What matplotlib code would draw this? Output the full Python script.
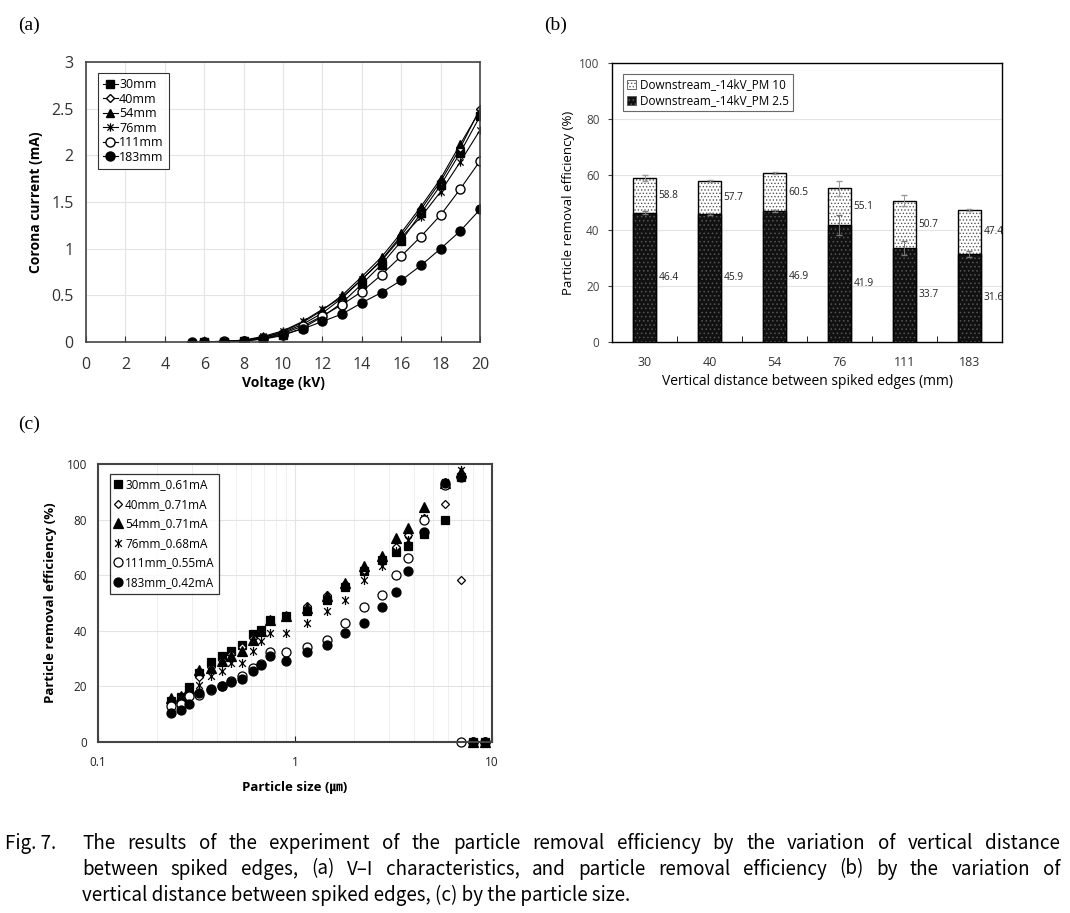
import matplotlib
matplotlib.use('Agg')
import matplotlib.pyplot as plt
import numpy as np
from matplotlib.path import Path
from matplotlib.patches import Patch

# ---------------- (a) V-I characteristics ----------------
volt = [6, 7, 8, 9, 10, 11, 12, 13, 14, 15, 16, 17, 18, 19, 20]
volt_183 = [5.4, 6, 7, 8, 9, 10, 11, 12, 13, 14, 15, 16, 17, 18, 19, 20]
cur_30 = [0.003, 0.005, 0.012, 0.03, 0.07, 0.15, 0.27, 0.42, 0.62, 0.83, 1.08, 1.38, 1.68, 2.03, 2.42]
cur_40 = [0.003, 0.006, 0.015, 0.05, 0.10, 0.19, 0.31, 0.47, 0.67, 0.88, 1.14, 1.42, 1.72, 2.08, 2.50]
cur_54 = [0.003, 0.006, 0.016, 0.05, 0.11, 0.21, 0.34, 0.50, 0.70, 0.91, 1.17, 1.45, 1.75, 2.12, 2.48]
cur_76 = [0.003, 0.007, 0.02, 0.06, 0.12, 0.22, 0.35, 0.48, 0.67, 0.87, 1.12, 1.34, 1.61, 1.93, 2.27]
cur_111 = [0.003, 0.006, 0.015, 0.04, 0.09, 0.17, 0.28, 0.40, 0.54, 0.72, 0.92, 1.13, 1.36, 1.64, 1.94]
cur_183 = [0.002, 0.003, 0.005, 0.012, 0.035, 0.08, 0.14, 0.22, 0.30, 0.42, 0.53, 0.66, 0.82, 1.00, 1.19, 1.42]

# ---------------- (b) removal efficiency by distance ----------------
dist = ['30', '40', '54', '76', '111', '183']
pm10 = [58.8, 57.7, 60.5, 55.1, 50.7, 47.4]
pm25 = [46.4, 45.9, 46.9, 41.9, 33.7, 31.6]
pm10_err = [1.0, 0.5, 0.3, 2.7, 2.0, 0.3]
pm25_err = [0.5, 0.3, 0.3, 3.5, 2.5, 1.0]

# ---------------- (c) removal efficiency by particle size ----------------
sizes = [0.235, 0.265, 0.29, 0.325, 0.375, 0.425, 0.475, 0.54, 0.615, 0.675, 0.75, 0.9,
         1.15, 1.45, 1.8, 2.25, 2.75, 3.25, 3.75, 4.5, 5.75, 7.0, 8.0, 9.25]
eff_30 = [14.6, 16.2, 19.8, 24.8, 28.6, 31.0, 32.6, 35.0, 39.0, 40.4, 44.0, 45.2,
          47.2, 51.2, 55.8, 61.4, 65.5, 68.5, 70.4, 75.0, 80.0, 95.5, 0, 0]
eff_40 = [14.0, 16.5, 18.5, 23.5, 27.0, 29.5, 31.5, 34.0, 37.5, 40.0, 43.5, 45.0,
          49.0, 53.0, 57.0, 62.0, 66.0, 70.0, 74.5, 80.5, 85.6, 58.2, 0, 0]
eff_54 = [15.8, 16.6, 19.4, 26.0, 26.6, 29.0, 31.0, 32.8, 36.8, 39.8, 44.0, 45.2,
          48.2, 52.4, 57.2, 63.2, 66.8, 73.4, 77.0, 84.4, 93.2, 97.3, 0, 0]
eff_76 = [14.0, 14.6, 17.0, 20.6, 23.6, 25.4, 28.4, 28.4, 32.6, 36.2, 39.2, 39.2,
          42.8, 47.0, 51.2, 58.4, 63.2, 68.6, 72.8, 80.6, 93.7, 97.9, 0, 0]
eff_111 = [12.8, 13.8, 16.6, 17.0, 18.8, 20.3, 21.8, 23.6, 26.6, 28.0, 32.2, 32.4,
           34.2, 36.8, 42.8, 48.4, 52.8, 60.2, 66.2, 79.8, 92.6, 0, 0, 0]
eff_183 = [10.6, 11.6, 13.8, 17.6, 19.2, 20.0, 21.5, 22.8, 25.4, 27.6, 31.0, 29.2,
           32.4, 35.0, 39.2, 42.8, 48.6, 54.0, 61.4, 75.6, 93.0, 95.2, 0, 0]

caption = [
    "The results of the experiment of the particle removal efficiency by the variation of vertical distance",
    "between spiked edges, (a) V\u2013I characteristics, and particle removal efficiency (b) by the variation of",
    "vertical distance between spiked edges, (c) by the particle size.",
]

# ---------------- fonts ----------------
SANS = ['Open Sans', 'Noto Sans', 'DejaVu Sans']
plt.rcParams['font.family'] = SANS
CAP_FONT = ['Noto Sans CJK KR', 'DejaVu Sans']

# 星号标记：竖线 + 叉
star = Path([(0, -1), (0, 1), (-0.75, -0.75), (0.75, 0.75), (-0.75, 0.75), (0.75, -0.75)],
            [Path.MOVETO, Path.LINETO, Path.MOVETO, Path.LINETO, Path.MOVETO, Path.LINETO])

W, H = 1070, 913
fig = plt.figure(figsize=(W / 100, H / 100), dpi=100)


def box(l, t, r, b):
    return [l / W, 1 - b / H, (r - l) / W, (b - t) / H]


# ======== (a) ========
ax = fig.add_axes(box(86, 62, 480, 342))
ka = dict(color='black', lw=0.8)
ax.plot(volt, cur_30, marker='s', ms=5.5, mfc='black', mec='black', label='30mm', **ka)
ax.plot(volt, cur_40, marker='D', ms=4.2, mfc='white', mec='black', label='40mm', **ka)
ax.plot(volt, cur_54, marker='^', ms=6, mfc='black', mec='black', label='54mm', **ka)
ax.plot(volt, cur_76, marker=star, ms=6, mfc='none', mec='black', mew=0.9, label='76mm', **ka)
ax.plot(volt, cur_111, marker='o', ms=6.5, mfc='white', mec='black', label='111mm', **ka)
ax.plot(volt_183, cur_183, marker='o', ms=6.5, mfc='black', mec='black', label='183mm', **ka)
ax.set_xlim(0, 20)
ax.set_ylim(0, 3)
ax.set_xticks(range(0, 21, 2))
ax.set_yticks([0, 0.5, 1, 1.5, 2, 2.5, 3])
ax.set_yticklabels(['0', '0.5', '1', '1.5', '2', '2.5', '3'])
ax.grid(True, color='#e4e4e4', lw=0.8)
ax.set_axisbelow(True)
ax.tick_params(axis='x', direction='in', length=4, labelsize=11.5, colors='#333', pad=11)
ax.tick_params(axis='y', length=0, labelsize=11.5, colors='#333', pad=9)
for s in ax.spines.values():
    s.set_color('#444')
    s.set_linewidth(1.2)
ax.set_xlabel('Voltage (kV)', fontsize=10, fontweight='bold', labelpad=2)
ax.set_ylabel('Corona current (mA)', fontsize=10, fontweight='bold', labelpad=6)
leg = ax.legend(loc='upper left', bbox_to_anchor=(0.03, 0.96), fontsize=9, frameon=True,
                fancybox=False, edgecolor='black', handlelength=1.2, handletextpad=0.1,
                labelspacing=0.12, borderpad=0.4, borderaxespad=0)
leg.get_frame().set_linewidth(0.8)

# ======== (b) ========
bx = fig.add_axes(box(612, 63, 1002, 342))
xpos = np.arange(len(dist))
bw = 0.34
plt.rcParams['hatch.linewidth'] = 0.6
bx.bar(xpos, pm10, bw, color='white', edgecolor='#555', hatch='.....', lw=0, zorder=2)
bx.bar(xpos, pm10, bw, fill=False, edgecolor='black', lw=1.0, zorder=3)
bx.errorbar(xpos, pm10, yerr=pm10_err, fmt='none', ecolor='#999', elinewidth=0.7, capsize=2, zorder=4)
bx.bar(xpos, pm25, bw, color='#111', edgecolor='#555', hatch='....', lw=0, zorder=4)
bx.bar(xpos, pm25, bw, fill=False, edgecolor='black', lw=1.0, zorder=5)
bx.errorbar(xpos, pm25, yerr=pm25_err, fmt='none', ecolor='#777', elinewidth=0.7, capsize=2, zorder=6)
for i in range(len(dist)):
    bx.text(xpos[i] + 0.22, (pm10[i] + pm25[i]) / 2, f'{pm10[i]:.1f}', fontsize=7.3, va='center', ha='left', color='#222')
    bx.text(xpos[i] + 0.22, pm25[i] / 2, f'{pm25[i]:.1f}', fontsize=7.3, va='center', ha='left', color='#222')
bx.set_xlim(-0.5, len(dist) - 0.5)
bx.set_ylim(0, 100)
bx.set_xticks(xpos)
bx.set_xticklabels(dist)
bx.set_xticks(np.arange(0.5, len(dist) - 0.5, 1), minor=True)
bx.set_yticks(range(0, 101, 20))
bx.yaxis.grid(True, color='#e4e4e4', lw=0.8)
bx.set_axisbelow(True)
bx.tick_params(axis='x', which='major', length=0, labelsize=9, colors='#333', pad=10)
bx.tick_params(axis='x', which='minor', direction='in', length=4)
bx.tick_params(axis='y', length=3, labelsize=8.5, colors='#444', pad=6)
for s in bx.spines.values():
    s.set_color('black')
    s.set_linewidth(1.0)
bx.set_xlabel('Vertical distance between spiked edges (mm)', fontsize=10, labelpad=4)
bx.set_ylabel('Particle removal efficiency (%)', fontsize=9.5, labelpad=3)
handles = [Patch(facecolor='white', edgecolor='#555', hatch='.....', lw=0.6),
           Patch(facecolor='#111', edgecolor='#555', hatch='....', lw=0.6)]
leg = bx.legend(handles, ['Downstream_-14kV_PM 10', 'Downstream_-14kV_PM 2.5'], loc='upper left',
                bbox_to_anchor=(0.028, 0.96), fontsize=8.5, fancybox=False, edgecolor='#444',
                handlelength=0.8, handleheight=0.8, handletextpad=0.3, labelspacing=0.25,
                borderpad=0.35, borderaxespad=0)
leg.get_frame().set_linewidth(0.8)

# ======== (c) ========
cx = fig.add_axes(box(98, 464, 492, 742))
kc = dict(ls='none', mec='black', mew=0.9, clip_on=False)
cx.plot(sizes, eff_30, marker='s', ms=6, mfc='black', label='30mm_0.61mA', **kc)
cx.plot(sizes, eff_40, marker='D', ms=4.5, mfc='white', label='40mm_0.71mA', **kc)
cx.plot(sizes, eff_54, marker='^', ms=6.5, mfc='black', label='54mm_0.71mA', **kc)
cx.plot(sizes, eff_76, marker=star, ms=6.5, mfc='none', label='76mm_0.68mA', **kc)
cx.plot(sizes, eff_111, marker='o', ms=6.5, mfc='white', label='111mm_0.55mA', **kc)
cx.plot(sizes, eff_183, marker='o', ms=6.5, mfc='black', label='183mm_0.42mA', **kc)
cx.set_xscale('log')
cx.set_xlim(0.1, 10)
cx.set_ylim(0, 100)
cx.set_xticks([0.1, 1, 10])
cx.set_xticklabels(['0.1', '1', '10'])
cx.set_yticks(range(0, 101, 20))
cx.grid(True, which='major', color='#e4e4e4', lw=0.8)
cx.grid(True, which='minor', axis='x', color='#ececec', lw=0.6)
cx.set_axisbelow(True)
cx.tick_params(axis='x', which='major', direction='in', length=4, labelsize=8.5, colors='#222', pad=10)
cx.tick_params(axis='x', which='minor', length=0)
cx.tick_params(axis='y', length=0, labelsize=8.5, colors='#222', pad=8)
for s in cx.spines.values():
    s.set_color('#444')
    s.set_linewidth(1.5)
cx.set_xlabel('Particle size (\u339b)', fontsize=9.5, fontweight='bold', labelpad=9,
              family=['Open Sans', 'Noto Sans CJK KR', 'DejaVu Sans'])
cx.set_ylabel('Particle removal efficiency (%)', fontsize=9.5, fontweight='bold', labelpad=7)
leg = cx.legend(loc='upper left', bbox_to_anchor=(0.03, 0.965), fontsize=8.5, fancybox=False,
                edgecolor='black', handlelength=0.6, handletextpad=0.3, labelspacing=0.55,
                borderpad=0.4, borderaxespad=0)
leg.get_frame().set_linewidth(0.9)

# ======== 面板标签 ========
serif = ['Liberation Serif', 'DejaVu Serif']
fig.text(18 / W, 1 - 25 / H, '(a)', fontsize=14, family=serif, va='center', ha='left')
fig.text(544 / W, 1 - 25 / H, '(b)', fontsize=14, family=serif, va='center', ha='left')
fig.text(18 / W, 1 - 424 / H, '(c)', fontsize=14, family=serif, va='center', ha='left')

# ======== 图注 (两端对齐) ========
cap_kw = dict(fontsize=13.5, family=CAP_FONT, va='center', ha='left', color='black')
renderer = fig.canvas.get_renderer()
fig.text(5 / W, 1 - 843 / H, 'Fig. 7.', **cap_kw)
line_y = [843, 869, 895]
for k, line in enumerate(caption):
    words = line.split(' ')
    y = 1 - line_y[k] / H
    if k == len(caption) - 1:
        fig.text(82 / W, y, line, **cap_kw)
        continue
    texts = [fig.text(0, y, w, **cap_kw) for w in words]
    widths = [t.get_window_extent(renderer).width for t in texts]
    gap = max(4, (1060 - 82 - sum(widths)) / (len(words) - 1))
    x = 82
    for t, wd in zip(texts, widths):
        t.set_x(x / W)
        x += wd + gap

fig.savefig('out.png', dpi=100)
